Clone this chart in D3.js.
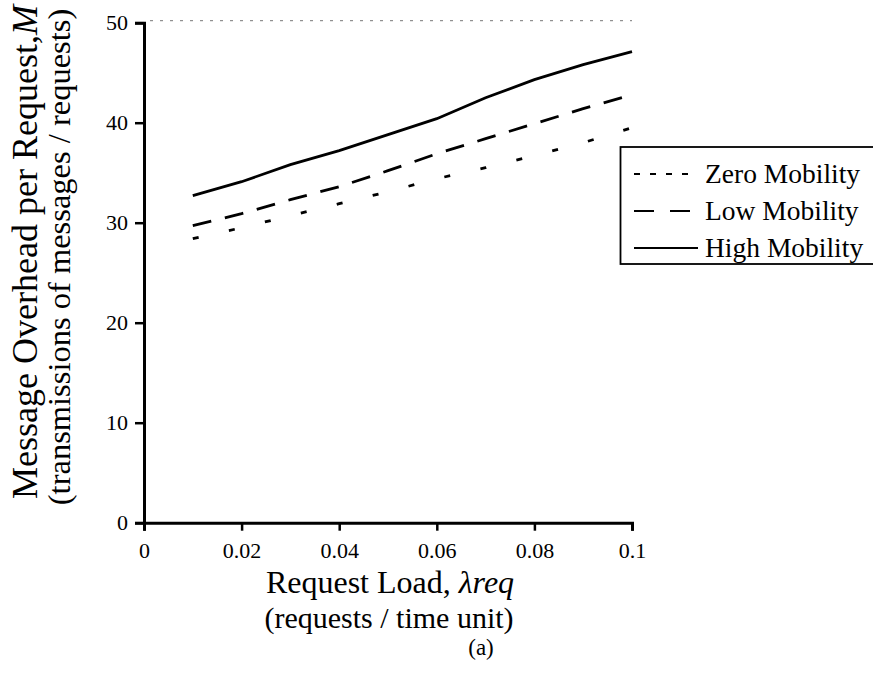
<!DOCTYPE html>
<html>
<head>
<meta charset="utf-8">
<script src="https://cdn.jsdelivr.net/npm/d3@7"></script>
<style>
  html, body { margin: 0; padding: 0; background: #fff; }
  svg { display: block; font-family: "Liberation Serif", "Times New Roman", serif; }
</style>
</head>
<body>
<svg id="chart" width="873" height="685"></svg>
<script>
const loads = [0.01, 0.02, 0.03, 0.04, 0.05, 0.06, 0.07, 0.08, 0.09, 0.1];
const zeroMobility = [28.4, 29.5, 30.7, 31.9, 33.1, 34.4, 35.5, 36.7, 38.0, 39.5];
const lowMobility  = [29.7, 30.9, 32.3, 33.6, 35.2, 36.9, 38.4, 39.9, 41.4, 42.8];
const highMobility = [32.7, 34.1, 35.8, 37.2, 38.8, 40.4, 42.5, 44.3, 45.8, 47.1];
const seriesNames = ["Zero Mobility", "Low Mobility", "High Mobility"];
const xTicks = [0, 0.02, 0.04, 0.06, 0.08, 0.1];
const xTickLabels = ["0", "0.02", "0.04", "0.06", "0.08", "0.1"];
const yTicks = [0, 10, 20, 30, 40, 50];

const svg = d3.select("#chart");
const x = d3.scaleLinear().domain([0, 0.1]).range([144, 632]);
const y = d3.scaleLinear().domain([0, 50]).range([522.7, 22.7]);

const series = [
  { name: seriesNames[0], values: zeroMobility, dash: "6,31", legendDash: "6,10" },
  { name: seriesNames[1], values: lowMobility, dash: "19,14", legendDash: "20,16" },
  { name: seriesNames[2], values: highMobility, dash: null, legendDash: null }
];

// faint top border (scan)
svg.append("line")
  .attr("x1", x(0) + 6).attr("x2", x(0.1)).attr("y1", y(50) - 2).attr("y2", y(50) - 2)
  .attr("stroke", "#777").attr("stroke-width", 1).attr("stroke-dasharray", "3,7");

// axes
const yAxis = d3.axisLeft(y).tickValues(yTicks).tickSize(9).tickFormat(d3.format("d"));
const gy = svg.append("g").attr("transform", `translate(${x(0)},0)`).call(yAxis);
gy.select(".domain").attr("stroke", "#000").attr("stroke-width", 3);
gy.selectAll(".tick line").attr("stroke", "#000").attr("stroke-width", 2.5);
gy.selectAll(".tick text").attr("font-size", 22).attr("fill", "#000")
  .attr("font-family", "Liberation Serif").attr("x", -16);

const xAxis = d3.axisBottom(x).tickValues(xTicks).tickSize(8)
  .tickFormat((d, i) => xTickLabels[i]);
const gx = svg.append("g").attr("transform", `translate(0,${y(0)})`).call(xAxis);
gx.select(".domain").attr("stroke", "#000").attr("stroke-width", 3);
gx.selectAll(".tick line").attr("stroke", "#000").attr("stroke-width", 2.5);
gx.selectAll(".tick text").attr("font-size", 22).attr("fill", "#000")
  .attr("font-family", "Liberation Serif").attr("y", 20);

// lines
const line = d3.line().x((d, i) => x(loads[i])).y(d => y(d));
series.forEach(s => {
  svg.append("path")
    .datum(s.values)
    .attr("d", line)
    .attr("fill", "none")
    .attr("stroke", "#000")
    .attr("stroke-width", 2.8)
    .attr("stroke-dasharray", s.dash);
});

// axis titles
svg.append("text")
  .attr("transform", "translate(37,252) rotate(-90)")
  .attr("text-anchor", "middle").attr("font-size", 36)
  .html('Message Overhead per Request,<tspan font-style="italic">M</tspan>');
svg.append("text")
  .attr("transform", "translate(70,257) rotate(-90)")
  .attr("text-anchor", "middle").attr("font-size", 32.5)
  .text("(transmissions of messages / requests)");

svg.append("text")
  .attr("x", 390).attr("y", 593).attr("text-anchor", "middle").attr("font-size", 32)
  .html('Request Load, <tspan font-style="italic">λreq</tspan>');
svg.append("text")
  .attr("x", 389).attr("y", 628).attr("text-anchor", "middle").attr("font-size", 30)
  .text("(requests / time unit)");
svg.append("text")
  .attr("x", 481).attr("y", 655).attr("text-anchor", "middle").attr("font-size", 23)
  .text("(a)");

// legend
const lg = svg.append("g");
lg.append("rect")
  .attr("x", 620.5).attr("y", 147).attr("width", 270).attr("height", 117)
  .attr("fill", "#fff").attr("stroke", "#000").attr("stroke-width", 1.8);
series.forEach((s, i) => {
  const yy = 174 + i * 37;
  lg.append("line")
    .attr("x1", 634).attr("x2", 698).attr("y1", yy).attr("y2", yy)
    .attr("stroke", "#000").attr("stroke-width", 2.2)
    .attr("stroke-dasharray", s.legendDash);
  lg.append("text")
    .attr("x", 705).attr("y", yy + 9).attr("font-size", 27.5)
    .text(s.name);
});
</script>
</body>
</html>
